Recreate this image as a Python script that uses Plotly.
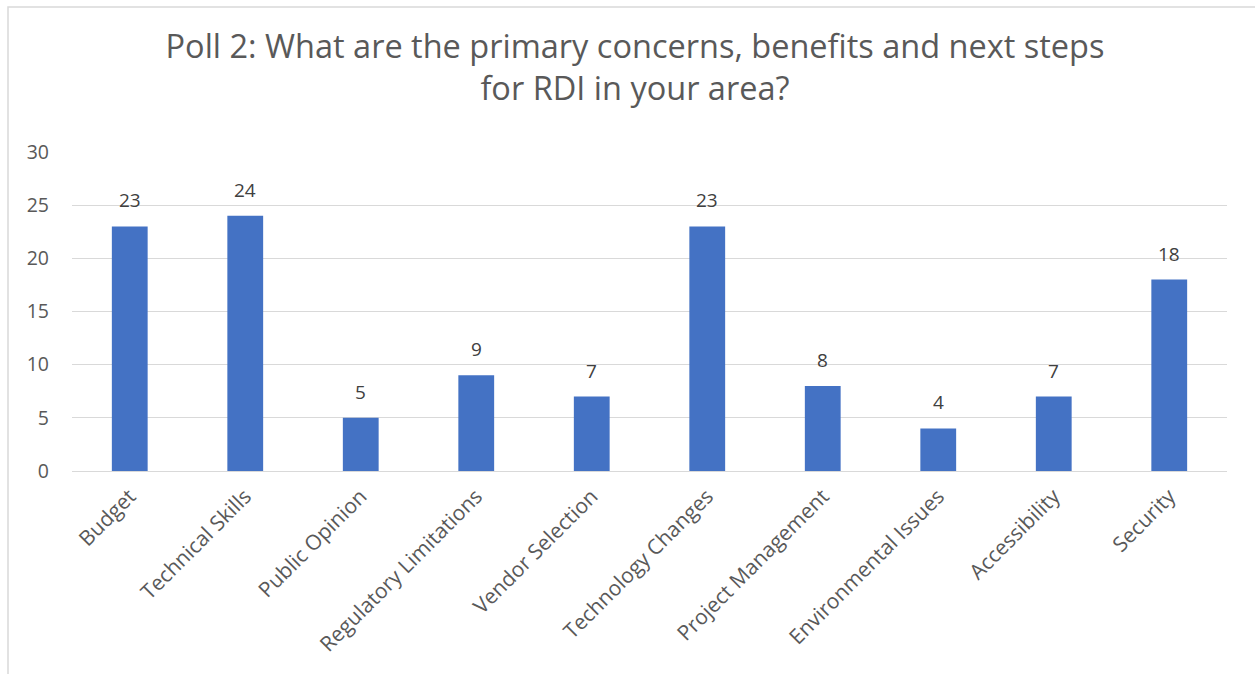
import plotly.graph_objects as go

categories = ["Budget", "Technical Skills", "Public Opinion", "Regulatory Limitations",
              "Vendor Selection", "Technology Changes", "Project Management",
              "Environmental Issues", "Accessibility", "Security"]
values = [23, 24, 5, 9, 7, 23, 8, 4, 7, 18]
y_ticks = [0, 5, 10, 15, 20, 25, 30]

W, H = 1255, 674
L, R, T, B = 72, 28, 152, 203
pw, ph = W - L - R, H - T - B

fig = go.Figure(go.Bar(
    x=categories, y=values,
    marker=dict(color="#4472C4", line=dict(width=0)),
    cliponaxis=False,
))

for c, v in zip(categories, values):
    fig.add_annotation(
        x=c, y=v, xref="x", yref="y", text=str(v), showarrow=False,
        yanchor="middle", yshift=26,
        font=dict(family="Open Sans", size=19, color="#404040"),
    )

fig.update_layout(
    width=W, height=H,
    margin=dict(l=L, r=R, t=T, b=B, pad=0),
    paper_bgcolor="white", plot_bgcolor="white",
    bargap=0.69,
    showlegend=False,
    title=dict(
        text="Poll 2: What are the primary concerns, benefits and next steps<br>for RDI in your area?",
        x=635 / W, xref="container", xanchor="center",
        y=1 - 58 / H, yanchor="top",
        font=dict(family="Open Sans", size=32.5, color="#595959"),
    ),
    xaxis=dict(
        tickangle=-45,
        tickfont=dict(family="Open Sans", size=21, color="#595959"),
        showgrid=False, showline=False, ticks="", ticklabelstandoff=8,
    ),
    yaxis=dict(
        range=[0, 30], tickvals=y_ticks,
        tickfont=dict(family="Open Sans", size=19.5, color="#595959"),
        showgrid=True, gridcolor="#D9D9D9", gridwidth=1,
        zeroline=True, zerolinecolor="#D9D9D9", zerolinewidth=1,
        showline=False, ticks="", ticklabelstandoff=22,
    ),
    shapes=[dict(
        type="rect", xref="paper", yref="paper",
        x0=(8 - L) / pw, x1=(W + 20 - L) / pw,
        y0=-(H + 20 - (T + ph)) / ph, y1=(T + ph - 7) / ph,
        line=dict(color="#D9D9D9", width=1.5), fillcolor="rgba(0,0,0,0)",
        layer="below",
    )],
)

fig.write_html("out.html")
